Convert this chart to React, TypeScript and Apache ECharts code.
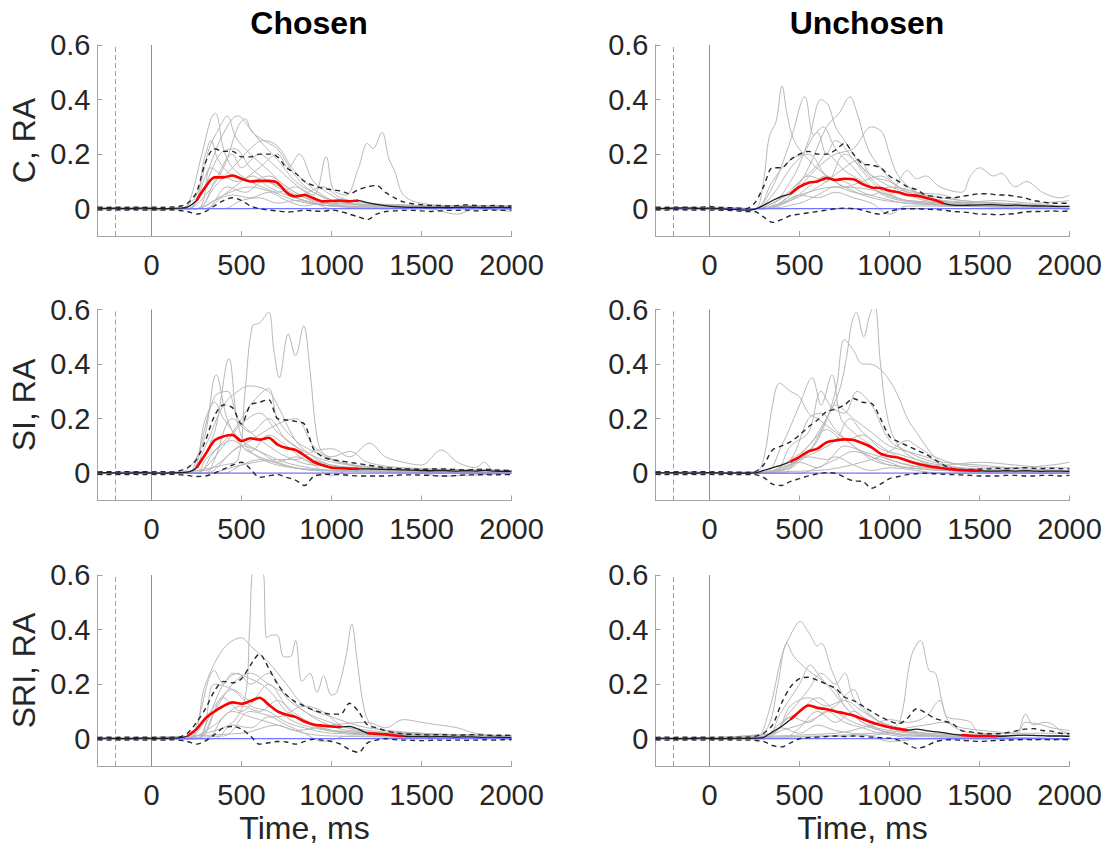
import React, { useEffect, useRef } from "react";
import * as echarts from "echarts";

// ---------- axes / labels ----------
const TF = [-300,-250,-200,-150,-100,-50,0,50,100,150,200,250,300,350,400,450,500,550,600,650,700,750,800,850,900,950,1000,1050,1100,1150,1200,1250,1300,1350,1400,1450,1500,1550,1600,1650,1700,1750,1800,1850,1900,1950,2000];
const X_TICKS = [0, 500, 1000, 1500, 2000];
const Y_TICKS = [0, 0.2, 0.4, 0.6];
const X_RANGE = [-300, 2000];
const Y_RANGE = [-0.1, 0.6];
const CUE_LINES = [-200, 0];
const COLUMN_TITLES = ["Chosen", "Unchosen"];
const ROW_LABELS = ["C, RA", "SI, RA", "SRI, RA"];
const X_NAME = "Time, ms";

// ---------- C, chosen ----------
const C_CH_MEAN = [0.002,0.001,0.002,0,0.001,0.002,0.001,0,0.001,0.002,
  0.006,0.03,0.08,0.115,0.115,0.122,0.11,0.1,0.102,0.102,
  0.095,0.06,0.045,0.05,0.038,0.027,0.028,0.03,0.027,0.03,
  0.022,0.016,0.011,0.008,0.006,0.005,0.005,0.004,0.005,0.004,
  0.005,0.006,0.005,0.004,0.005,0.005,0.004];
const C_CH_UP = [0.006,0.005,0.006,0.005,0.006,0.005,0.006,0.005,0.006,0.008,
  0.02,0.06,0.17,0.22,0.21,0.21,0.19,0.19,0.2,0.2,
  0.19,0.15,0.13,0.1,0.085,0.075,0.07,0.065,0.055,0.07,
  0.08,0.085,0.06,0.04,0.025,0.018,0.015,0.012,0.012,0.01,
  0.012,0.014,0.012,0.01,0.012,0.01,0.01];
const C_CH_LO = [-0.004,-0.005,-0.004,-0.005,-0.004,-0.005,-0.004,-0.005,-0.004,-0.006,
  -0.01,-0.02,-0.01,0.01,0.03,0.04,0.03,0.01,0,-0.005,
  -0.008,-0.012,-0.01,-0.005,-0.008,-0.01,-0.005,-0.01,-0.02,-0.03,
  -0.04,-0.02,-0.01,-0.008,-0.006,-0.006,-0.008,-0.01,-0.008,-0.006,
  -0.006,-0.005,-0.008,-0.006,-0.005,-0.006,-0.005];
const C_CH_SIG = [[250, 1150]];
const C_CH_SUBJ = [
  [[-300,0],[-150,0.005],[0,-0.005],[150,0],[200,0.01],[280,0.2],[330,0.33],[355,0.35],[400,0.22],[450,0.15],[550,0.1],[650,0.07],[800,0.03],[1000,0.01],[1300,0],[2000,0]],
  [[-300,0],[-50,0.005],[150,0],[250,0.05],[320,0.22],[380,0.3],[420,0.34],[470,0.26],[550,0.2],[650,0.14],[750,0.08],[900,0.03],[1100,0.01],[1600,0.01],[2000,0]],
  [[-300,0],[200,0],[300,0.12],[380,0.25],[450,0.33],[480,0.34],[540,0.3],[600,0.25],[700,0.18],[800,0.1],[900,0.06],[1000,0.03],[1300,0.01],[2000,0.01]],
  [[-300,0],[200,0],[300,0.05],[400,0.15],[480,0.3],[520,0.33],[560,0.28],[650,0.24],[700,0.22],[800,0.12],[900,0.06],[1100,0.02],[2000,0]],
  [[-300,0],[250,0],[350,0.08],[450,0.15],[550,0.22],[620,0.25],[700,0.23],[780,0.15],[850,0.1],[950,0.05],[1050,0.02],[1500,0.01],[2000,0]],
  [[-300,0],[250,0],[400,0.05],[550,0.08],[700,0.06],[800,0.08],[900,0.05],[970,0.19],[1010,0.07],[1080,0.05],[1150,0.15],[1200,0.24],[1230,0.22],[1280,0.28],[1320,0.18],[1350,0.14],[1400,0.05],[1500,0.02],[1700,0.01],[2000,0.01]],
  [[-300,0],[200,0],[300,0.2],[330,0.25],[370,0.18],[450,0.12],[550,0.1],[650,0.12],[750,0.08],[850,0.04],[1000,0.01],[2000,0]],
  [[-300,0],[250,0],[350,0.1],[450,0.2],[500,0.15],[600,0.2],[680,0.16],[780,0.1],[880,0.05],[1000,0.02],[2000,0]],
  [[-300,0],[300,0],[400,0.05],[500,0.1],[600,0.15],[700,0.2],[760,0.15],[820,0.2],[900,0.1],[1000,0.05],[1100,0.02],[1400,0.01],[2000,0]],
  [[-300,0],[250,0],[350,0.03],[450,0.05],[550,0.04],[650,0.06],[750,0.03],[850,0.01],[950,0.02],[1200,0],[1600,0.01],[2000,-0.01]],
  [[-300,0],[250,0],[330,0.15],[400,0.12],[480,0.1],[560,0.12],[650,0.08],[750,0.05],[850,0.03],[1000,0.01],[2000,0]],
  [[-300,0],[300,0],[420,0.08],[520,0.06],[620,0.1],[720,0.08],[820,0.05],[950,0.08],[1050,0.04],[1200,0.02],[1500,0.01],[1700,-0.02],[1800,0],[2000,0]],
  [[-300,0],[200,0],[280,0.06],[380,0.2],[460,0.22],[550,0.15],[650,0.1],[750,0.06],[850,0.03],[1000,0.01],[2000,0]],
  [[-300,0],[400,0],[500,0.03],[600,0.04],[700,0.02],[800,0.03],[900,0.02],[1000,0],[1200,0.01],[1500,0.01],[2000,0.01]],
];

// ---------- C, unchosen ----------
const C_UN_MEAN = [0.002,0.001,0.002,0.003,0.002,0.001,0.002,0,-0.002,-0.003,
  -0.005,-0.002,0.012,0.03,0.045,0.055,0.08,0.095,0.1,0.112,
  0.105,0.11,0.108,0.09,0.078,0.076,0.066,0.06,0.05,0.048,
  0.04,0.032,0.02,0.013,0.012,0.013,0.014,0.015,0.014,0.012,
  0.013,0.011,0.01,0.01,0.009,0.008,0.008];
const C_UN_UP = [0.006,0.005,0.006,0.006,0.005,0.006,0.008,0.005,0.004,0.003,
  0,0.02,0.08,0.15,0.15,0.18,0.2,0.21,0.2,0.2,
  0.215,0.24,0.2,0.165,0.16,0.15,0.12,0.1,0.08,0.07,
  0.05,0.045,0.04,0.04,0.045,0.05,0.055,0.055,0.05,0.05,
  0.045,0.04,0.03,0.025,0.02,0.02,0.02];
const C_UN_LO = [-0.004,-0.005,-0.004,-0.004,-0.005,-0.004,-0.005,-0.005,-0.006,-0.008,
  -0.01,-0.01,-0.03,-0.05,-0.04,-0.025,-0.02,-0.015,-0.01,-0.005,
  0,0.002,0,-0.005,-0.015,-0.02,-0.01,-0.002,0,0,
  -0.002,-0.003,-0.005,-0.01,-0.012,-0.015,-0.02,-0.02,-0.022,-0.02,
  -0.018,-0.012,-0.01,-0.01,-0.008,-0.01,-0.008];
const C_UN_SIG = [[450, 1300]];
const C_UN_SUBJ = [
  [[-300,0],[-100,0.005],[100,0],[250,0],[300,0.1],[330,0.26],[370,0.32],[403,0.45],[430,0.35],[470,0.25],[550,0.18],[650,0.12],[750,0.08],[900,0.04],[1100,0.02],[1400,0.01],[2000,0]],
  [[-300,0],[100,0.005],[250,0],[350,0.08],[450,0.25],[530,0.41],[580,0.27],[630,0.3],[700,0.22],[800,0.15],[900,0.08],[1000,0.04],[1200,0.02],[2000,0]],
  [[-300,0],[300,0],[450,0.1],[550,0.25],[620,0.4],[660,0.38],[700,0.3],[750,0.25],[850,0.15],[950,0.08],[1100,0.03],[2000,0.01]],
  [[-300,0],[300,0],[450,0.05],[550,0.15],[650,0.3],[720,0.35],[780,0.41],[820,0.35],[880,0.22],[950,0.15],[1050,0.08],[1200,0.03],[2000,0]],
  [[-300,0],[300,0],[450,0.05],[600,0.15],[700,0.2],[800,0.22],[900,0.3],[960,0.28],[1000,0.2],[1050,0.12],[1150,0.06],[1300,0.03],[2000,0.01]],
  [[-300,0],[300,0],[500,0.05],[700,0.08],[900,0.07],[1000,0.05],[1050,0.1],[1100,0.14],[1150,0.11],[1200,0.12],[1280,0.08],[1400,0.06],[1450,0.12],[1500,0.15],[1580,0.12],[1620,0.13],[1700,0.08],[1760,0.1],[1850,0.06],[1950,0.04],[2000,0.05]],
  [[-300,0],[250,0],[350,0.05],[450,0.15],[520,0.2],[600,0.28],[650,0.2],[700,0.25],[800,0.18],[900,0.1],[1000,0.05],[1200,0.02],[2000,0]],
  [[-300,0],[250,0],[400,0.04],[500,0.1],[600,0.16],[650,0.2],[750,0.14],[850,0.1],[950,0.06],[1100,0.03],[2000,0]],
  [[-300,0],[300,0],[450,0.03],[550,0.06],[650,0.1],[750,0.15],[830,0.18],[900,0.12],[1000,0.1],[1100,0.06],[1250,0.03],[2000,0]],
  [[-300,0],[250,0],[400,0.02],[500,0.05],[600,0.04],[700,0.06],[800,0.04],[900,0.02],[1000,-0.02],[1100,0.01],[2000,0]],
  [[-300,0],[300,0],[450,0.03],[550,0.08],[650,0.12],[750,0.08],[850,0.1],[950,0.12],[1050,0.08],[1150,0.06],[1300,0.05],[1400,0.03],[2000,0.01]],
  [[-300,0],[250,0],[350,0.02],[450,0.06],[550,0.12],[650,0.1],[750,0.2],[850,0.15],[950,0.1],[1050,0.07],[1200,0.05],[1400,0.03],[1600,0.02],[2000,0.01]],
  [[-300,0],[300,0],[500,0.02],[600,0.05],[700,0.08],[800,0.06],[900,0.05],[1000,0.08],[1100,0.07],[1200,0.05],[1350,0.02],[1600,0.03],[1800,0.02],[2000,0.03]],
  [[-300,0],[250,0],[350,0.1],[450,0.18],[550,0.2],[650,0.12],[750,0.1],[850,0.06],[950,0.04],[1100,0.02],[2000,0]],
];

// ---------- SI, chosen ----------
const SI_CH_MEAN = [0.001,0.002,0.001,0,0.001,0.002,0.001,0,0.001,0.002,
  0.004,0.02,0.07,0.12,0.135,0.14,0.118,0.128,0.123,0.13,
  0.105,0.092,0.085,0.065,0.042,0.03,0.02,0.018,0.017,0.016,
  0.016,0.015,0.014,0.013,0.012,0.011,0.01,0.009,0.01,0.009,
  0.008,0.009,0.008,0.01,0.008,0.007,0.007];
const SI_CH_UP = [0.005,0.006,0.005,0.006,0.005,0.006,0.005,0.006,0.005,0.008,
  0.02,0.05,0.12,0.21,0.25,0.24,0.18,0.25,0.26,0.27,
  0.2,0.195,0.19,0.18,0.09,0.06,0.05,0.045,0.04,0.035,
  0.03,0.025,0.02,0.018,0.016,0.015,0.014,0.015,0.016,0.015,
  0.013,0.012,0.014,0.015,0.012,0.011,0.01];
const SI_CH_LO = [-0.004,-0.005,-0.004,-0.005,-0.004,-0.005,-0.004,-0.005,-0.004,-0.005,
  -0.008,-0.012,-0.01,0,0.015,0.03,0.04,0.015,-0.015,-0.01,
  -0.005,-0.015,-0.025,-0.045,-0.012,-0.005,-0.004,-0.005,-0.008,-0.01,
  -0.01,-0.01,-0.01,-0.008,-0.006,-0.006,-0.007,-0.008,-0.01,-0.01,
  -0.008,-0.006,-0.006,-0.005,-0.006,-0.005,-0.005];
const SI_CH_SIG = [[250, 1150]];
const SI_CH_SUBJ = [
  [[-300,0],[-100,0.005],[100,0],[250,0.01],[400,0.03],[480,0.05],[520,0.3],[560,0.54],[600,0.55],[650,0.59],[680,0.45],[710,0.35],[760,0.51],[800,0.43],[845,0.54],[880,0.38],[920,0.13],[960,0.07],[1100,0.03],[1300,0.01],[2000,0]],
  [[-300,0],[-50,0.005],[150,0],[280,0.1],[360,0.36],[420,0.2],[500,0.1],[600,0.06],[800,0.02],[1100,0.01],[2000,0]],
  [[-300,0],[200,0],[250,0.02],[350,0.15],[430,0.42],[480,0.18],[550,0.08],[700,0.03],[1000,0.01],[2000,0]],
  [[-300,0],[200,0],[300,0.1],[400,0.25],[500,0.31],[550,0.32],[650,0.3],[700,0.25],[800,0.12],[900,0.06],[1000,0.03],[1300,0.01],[2000,0]],
  [[-300,0],[250,0],[300,0.05],[450,0.15],[550,0.25],[650,0.31],[700,0.2],[800,0.12],[900,0.08],[1050,0.04],[1300,0.02],[2000,0.01]],
  [[-300,0],[200,0],[250,0.05],[350,0.28],[420,0.3],[480,0.2],[550,0.15],[650,0.1],[750,0.06],[900,0.03],[2000,0]],
  [[-300,0],[250,0],[300,0.02],[400,0.1],[500,0.18],[600,0.22],[700,0.15],[800,0.1],[900,0.05],[1100,0.02],[2000,0]],
  [[-300,0],[250,0],[350,0.08],[450,0.12],[550,0.08],[650,0.14],[750,0.1],[850,0.05],[1000,0.02],[2000,0]],
  [[-300,0],[300,0],[500,0.03],[700,0.05],[800,0.05],[900,0.08],[1000,0.09],[1100,0.06],[1210,0.11],[1300,0.06],[1400,0.04],[1500,0.03],[1610,0.085],[1700,0.04],[1800,0.02],[1850,0.04],[1900,0.01],[2000,0.01]],
  [[-300,0],[300,0.01],[400,0.05],[500,0.1],[600,0.08],[700,0.05],[800,0.03],[1000,0.01],[2000,0]],
  [[-300,0],[300,0],[350,0.05],[450,0.2],[550,0.15],[650,0.2],[750,0.12],[850,0.08],[950,0.05],[1100,0.03],[1400,0.01],[2000,0]],
  [[-300,0],[400,0],[500,0.03],[600,0.05],[700,0.04],[800,0.06],[900,0.03],[1000,-0.01],[1100,0.01],[1500,0],[1600,-0.01],[2000,0]],
  [[-300,0],[200,0],[300,0.2],[350,0.26],[400,0.2],[500,0.12],[600,0.08],[700,0.04],[900,0.01],[2000,0]],
  [[-300,0],[300,0],[450,0.08],[550,0.12],[700,0.18],[800,0.2],[900,0.1],[1000,0.06],[1100,0.08],[1200,0.04],[1400,0.02],[2000,0.01]],
];

// ---------- SI, unchosen ----------
const SI_UN_MEAN = [0.002,0.001,0.002,0.001,0,0.001,0.002,0.001,0,0.001,
  0,0.001,0.01,0.02,0.03,0.042,0.06,0.08,0.09,0.113,
  0.12,0.124,0.122,0.11,0.095,0.072,0.062,0.057,0.046,0.036,
  0.028,0.022,0.018,0.014,0.011,0.01,0.009,0.008,0.008,0.009,
  0.008,0.009,0.008,0.007,0.008,0.008,0.007];
const SI_UN_UP = [0.005,0.006,0.005,0.006,0.005,0.006,0.005,0.006,0.005,0.004,
  0.003,0.005,0.03,0.085,0.1,0.115,0.14,0.17,0.195,0.225,
  0.235,0.25,0.274,0.26,0.256,0.2,0.135,0.115,0.1,0.085,
  0.07,0.05,0.03,0.017,0.014,0.014,0.015,0.016,0.018,0.017,
  0.018,0.02,0.018,0.017,0.018,0.017,0.016];
const SI_UN_LO = [-0.004,-0.005,-0.004,-0.005,-0.004,-0.005,-0.004,-0.005,-0.004,-0.005,
  -0.005,-0.005,-0.015,-0.04,-0.045,-0.03,-0.02,-0.01,-0.002,0.002,
  0,-0.015,-0.028,-0.03,-0.055,-0.04,-0.02,-0.012,-0.005,-0.002,
  0,-0.002,-0.004,-0.005,-0.006,-0.008,-0.01,-0.01,-0.01,-0.008,
  -0.008,-0.01,-0.01,-0.008,-0.008,-0.01,-0.008];
const SI_UN_SIG = [[450, 1500]];
const SI_UN_SUBJ = [
  [[-300,0],[-100,0.005],[100,0],[250,0],[400,0.02],[550,0.08],[650,0.2],[720,0.3],[760,0.42],[790,0.55],[815,0.59],[857,0.5],[890,0.58],[917,0.62],[950,0.4],[990,0.2],[1050,0.1],[1150,0.05],[1300,0.02],[1500,0.01],[2000,0]],
  [[-300,0],[300,0],[500,0.05],[600,0.12],[700,0.3],[750,0.49],[800,0.45],[850,0.4],[890,0.4],[950,0.38],[1000,0.34],[1050,0.28],[1100,0.2],[1150,0.15],[1250,0.06],[1350,0.02],[2000,0]],
  [[-300,0],[250,0],[300,0.05],[350,0.25],[390,0.33],[450,0.3],[500,0.28],[550,0.22],[600,0.2],[700,0.15],[800,0.1],[900,0.05],[1000,0.03],[1300,0.01],[2000,0]],
  [[-300,0],[300,0],[400,0.1],[500,0.25],[570,0.35],[620,0.25],[680,0.36],[730,0.2],[800,0.15],[900,0.1],[1000,0.05],[1200,0.02],[2000,0]],
  [[-300,0],[350,0],[450,0.1],[550,0.15],[620,0.3],[680,0.24],[750,0.22],[820,0.3],[900,0.25],[1000,0.12],[1100,0.08],[1200,0.05],[1400,0.02],[2000,0.01]],
  [[-300,0],[300,0],[450,0.05],[550,0.1],[650,0.2],[700,0.25],[800,0.2],[900,0.15],[1000,0.1],[1100,0.08],[1200,0.06],[1300,0.04],[1500,0.03],[1700,0.02],[1900,0.03],[2000,0.04]],
  [[-300,0],[400,0],[500,0.05],[600,0.08],[700,0.12],[780,0.2],[850,0.15],[950,0.1],[1050,0.06],[1150,0.04],[1400,0.01],[2000,0]],
  [[-300,0],[300,0],[450,0.02],[550,0.06],[650,0.05],[750,0.1],[850,0.08],[950,0.06],[1050,0.04],[1200,0.02],[2000,0]],
  [[-300,0],[400,0.01],[550,0.1],[650,0.16],[750,0.12],[850,0.14],[950,0.09],[1050,0.07],[1150,0.05],[1300,0.03],[1500,0.04],[1700,0.03],[1900,0.02],[2000,0.02]],
  [[-300,0],[300,0],[450,0.05],[550,0.2],[620,0.22],[700,0.16],[800,0.1],[900,0.06],[1000,0.03],[1300,0.01],[2000,0]],
  [[-300,0],[500,0],[600,0.02],[700,0.05],[800,0.08],[900,0.06],[1000,0.04],[1100,0.02],[1200,0.03],[1500,0.01],[2000,0]],
  [[-300,0],[350,0],[500,0.04],[600,0.02],[700,0.06],[800,0.03],[900,0.01],[1000,0.02],[1300,0],[2000,0.01]],
  [[-300,0],[600,0.01],[900,0.05],[1000,0.08],[1100,0.12],[1150,0.1],[1250,0.06],[1400,0.03],[1600,0.02],[2000,0.01]],
];

// ---------- SRI, chosen ----------
const SRI_CH_MEAN = [0.001,0.002,0.001,0,0.001,0.002,0.001,0.001,0.002,0.003,
  0.01,0.035,0.075,0.1,0.12,0.133,0.128,0.138,0.15,0.125,
  0.1,0.088,0.08,0.063,0.052,0.048,0.045,0.043,0.045,0.035,
  0.02,0.018,0.016,0.012,0.009,0.008,0.008,0.007,0.008,0.007,
  0.006,0.007,0.006,0.005,0.006,0.005,0.004];
const SRI_CH_UP = [0.005,0.006,0.005,0.006,0.005,0.006,0.005,0.006,0.005,0.006,
  0.02,0.06,0.11,0.175,0.21,0.205,0.22,0.27,0.31,0.26,
  0.2,0.16,0.135,0.12,0.105,0.095,0.09,0.09,0.13,0.1,
  0.05,0.04,0.03,0.022,0.018,0.016,0.015,0.014,0.015,0.014,
  0.013,0.014,0.015,0.013,0.012,0.013,0.012];
const SRI_CH_LO = [-0.004,-0.005,-0.004,-0.005,-0.004,-0.005,-0.004,-0.005,-0.004,-0.005,
  -0.01,-0.02,-0.008,0.015,0.04,0.045,0.035,0.01,-0.02,-0.015,
  -0.01,-0.012,-0.02,-0.01,-0.002,-0.005,-0.01,-0.02,-0.04,-0.05,
  -0.015,-0.005,0,-0.003,-0.005,-0.006,-0.007,-0.006,-0.005,-0.006,
  -0.005,-0.006,-0.005,-0.004,-0.005,-0.004,-0.004];
const SRI_CH_SIG = [[200, 1050], [1200, 1400]];
const SRI_CH_SUBJ = [
  [[-300,0],[-100,0.005],[150,0],[300,0.02],[450,0.06],[520,0.15],[545,0.4],[570,0.62],[615,0.62],[640,0.37],[670,0.38],[698,0.38],[735,0.3],[770,0.3],[800,0.36],[837,0.21],[880,0.24],[920,0.17],[956,0.23],[1000,0.16],[1030,0.17],[1080,0.3],[1113,0.42],[1140,0.3],[1178,0.12],[1220,0.05],[1300,0.03],[1500,0.02],[2000,0.01]],
  [[-300,0],[200,0],[300,0.2],[400,0.33],[500,0.37],[550,0.34],[650,0.28],[750,0.2],[850,0.12],[1000,0.08],[1200,0.04],[1500,0.02],[2000,0]],
  [[-300,0],[200,0],[250,0.05],[350,0.25],[400,0.2],[450,0.24],[550,0.22],[650,0.18],[750,0.1],[850,0.06],[1000,0.03],[2000,0]],
  [[-300,0],[250,0],[300,0.05],[400,0.2],[480,0.24],[550,0.2],[650,0.24],[750,0.15],[850,0.1],[950,0.06],[1100,0.03],[2000,0]],
  [[-300,0],[200,0],[250,0.02],[350,0.12],[450,0.18],[550,0.14],[650,0.2],[750,0.12],[850,0.07],[1000,0.03],[2000,0]],
  [[-300,0],[300,0],[400,0.08],[500,0.12],[600,0.1],[700,0.14],[800,0.08],[900,0.05],[1100,0.02],[2000,0]],
  [[-300,0],[500,0.02],[700,0.05],[800,0.03],[1000,0.05],[1200,0.06],[1300,0.04],[1400,0.07],[1500,0.06],[1600,0.05],[1700,0.04],[1800,0.02],[2000,0.01]],
  [[-300,0],[200,0],[250,0.01],[350,0.05],[450,0.1],[550,0.08],[650,0.06],[750,0.04],[850,0.02],[1000,0.01],[2000,0]],
  [[-300,0],[250,0],[300,0.02],[400,0.15],[500,0.1],[600,0.15],[700,0.1],[800,0.06],[900,0.04],[1100,0.02],[2000,0]],
  [[-300,0],[350,0],[450,0.05],[550,0.04],[650,0.08],[750,0.05],[850,0.02],[950,-0.01],[1100,0.01],[2000,0]],
  [[-300,0],[250,0],[350,0.2],[450,0.18],[550,0.12],[650,0.1],[750,0.06],[850,0.04],[1000,0.02],[2000,0]],
  [[-300,0],[400,0.01],[550,0.1],[700,0.08],[850,0.12],[950,0.1],[1050,0.05],[1150,0.03],[1300,0.02],[2000,0.01]],
  [[-300,0],[250,0],[350,0.1],[450,0.2],[550,0.24],[650,0.2],[750,0.16],[850,0.1],[950,0.07],[1100,0.04],[1400,0.02],[2000,0.01]],
];

// ---------- SRI, unchosen ----------
const SRI_UN_MEAN = [0.001,0.002,0.001,0,0.001,0.002,0.001,0,0.001,0.001,
  0.001,0.002,0.005,0.025,0.045,0.07,0.1,0.122,0.113,0.108,
  0.1,0.093,0.085,0.072,0.06,0.05,0.042,0.036,0.031,0.035,
  0.03,0.026,0.022,0.016,0.013,0.011,0.01,0.01,0.009,0.01,
  0.012,0.013,0.012,0.011,0.01,0.01,0.009];
const SRI_UN_UP = [0.005,0.006,0.005,0.006,0.005,0.006,0.005,0.006,0.005,0.006,
  0.006,0.008,0.02,0.05,0.13,0.19,0.22,0.225,0.214,0.2,
  0.185,0.153,0.14,0.12,0.1,0.08,0.065,0.055,0.075,0.11,
  0.095,0.075,0.065,0.055,0.03,0.025,0.02,0.018,0.018,0.022,
  0.028,0.035,0.037,0.03,0.028,0.02,0.018];
const SRI_UN_LO = [-0.004,-0.005,-0.004,-0.005,-0.004,-0.005,-0.004,-0.005,-0.004,-0.005,
  -0.005,-0.006,-0.01,-0.025,-0.03,-0.015,0,0.004,0.006,0.008,
  0.01,0.008,0.01,0.008,0.006,0.004,0.002,-0.005,-0.02,-0.035,
  -0.028,-0.012,-0.005,-0.004,-0.006,-0.008,-0.01,-0.008,-0.006,-0.005,
  -0.004,-0.003,-0.004,-0.003,-0.004,-0.003,-0.004];
const SRI_UN_SIG = [[450, 1100], [1400, 1600]];
const SRI_UN_SUBJ = [
  [[-300,0],[0,0.005],[250,0],[330,0.1],[400,0.3],[450,0.38],[506,0.43],[540,0.4],[560,0.38],[600,0.34],[620,0.35],[680,0.25],[750,0.15],[850,0.08],[1000,0.04],[1200,0.02],[2000,0.01]],
  [[-300,0],[250,0],[330,0.05],[380,0.2],[430,0.35],[470,0.3],[550,0.25],[650,0.2],[750,0.12],[850,0.06],[1000,0.03],[1300,0.01],[2000,0]],
  [[-300,0],[600,0.01],[900,0.02],[1000,0.03],[1060,0.07],[1120,0.3],[1172,0.36],[1220,0.25],[1256,0.24],[1290,0.14],[1330,0.06],[1400,0.03],[1500,0.02],[1700,0.02],[1756,0.09],[1800,0.05],[1857,0.06],[1900,0.055],[1950,0.03],[2000,0.02]],
  [[-300,0],[300,0],[400,0.1],[500,0.2],[561,0.27],[600,0.24],[650,0.2],[700,0.18],[750,0.12],[850,0.06],[950,0.03],[1200,0.01],[2000,0]],
  [[-300,0],[300,0],[450,0.1],[550,0.18],[620,0.24],[700,0.2],[750,0.24],[800,0.15],[900,0.08],[1000,0.05],[1200,0.02],[2000,0]],
  [[-300,0],[350,0.02],[450,0.12],[550,0.15],[650,0.12],[750,0.14],[850,0.1],[950,0.06],[1050,0.03],[1300,0.01],[2000,0]],
  [[-300,0],[300,0.01],[400,0.06],[500,0.1],[600,0.15],[700,0.1],[800,0.06],[900,0.04],[1100,0.01],[2000,0]],
  [[-300,0],[300,0],[400,0.03],[500,0.05],[600,0.08],[700,0.12],[800,0.18],[850,0.12],[950,0.06],[1050,0.04],[1300,0.01],[2000,0]],
  [[-300,0],[700,0.02],[900,0.05],[1000,0.07],[1100,0.06],[1200,0.08],[1280,0.14],[1320,0.08],[1400,0.07],[1450,0.06],[1500,0.02],[1700,0.01],[1756,0.06],[1850,0.05],[1900,0.04],[2000,0.03]],
  [[-300,0],[300,0],[400,0.04],[500,0.02],[600,0.05],[700,0.03],[800,0.02],[900,0.01],[1000,-0.01],[1200,0],[2000,0]],
  [[-300,0],[350,0.02],[450,0.08],[550,0.06],[650,0.1],[750,0.06],[850,0.04],[950,0.02],[1200,0],[2000,0]],
  [[-300,0],[800,0.01],[1000,0.02],[1100,0.04],[1200,0.05],[1300,0.06],[1400,0.04],[1600,0.025],[1700,0.02],[2000,0.02]],
  [[-300,0],[400,0],[500,0.04],[600,0.1],[700,0.06],[800,0.1],[900,0.05],[1000,0.02],[1300,0.01],[2000,0]],
];

// ---------- layout ----------
const FONT = '"Liberation Sans", Arial, Helvetica, sans-serif';
const GRID_LEFT = [97.5, 655.5];
const GRID_WIDTH = 414;
const GRID_TOP = [45, 309.5, 575];
const GRID_HEIGHT = 191;
const TITLE_CENTER = [304, 862];

const PANELS = [
  { row: 0, col: 0, subj: C_CH_SUBJ, up: C_CH_UP, lo: C_CH_LO, mean: C_CH_MEAN, sig: C_CH_SIG },
  { row: 0, col: 1, subj: C_UN_SUBJ, up: C_UN_UP, lo: C_UN_LO, mean: C_UN_MEAN, sig: C_UN_SIG },
  { row: 1, col: 0, subj: SI_CH_SUBJ, up: SI_CH_UP, lo: SI_CH_LO, mean: SI_CH_MEAN, sig: SI_CH_SIG },
  { row: 1, col: 1, subj: SI_UN_SUBJ, up: SI_UN_UP, lo: SI_UN_LO, mean: SI_UN_MEAN, sig: SI_UN_SIG },
  { row: 2, col: 0, subj: SRI_CH_SUBJ, up: SRI_CH_UP, lo: SRI_CH_LO, mean: SRI_CH_MEAN, sig: SRI_CH_SIG },
  { row: 2, col: 1, subj: SRI_UN_SUBJ, up: SRI_UN_UP, lo: SRI_UN_LO, mean: SRI_UN_MEAN, sig: SRI_UN_SIG },
];

function buildOption() {
  const grid: any[] = [];
  const xAxis: any[] = [];
  const yAxis: any[] = [];
  const series: any[] = [];
  const axisColor = "#a3a3a3";
  const textColor = "#262626";

  PANELS.forEach((p, i) => {
    grid.push({
      left: GRID_LEFT[p.col], top: GRID_TOP[p.row], width: GRID_WIDTH, height: GRID_HEIGHT,
      containLabel: false, outerBoundsMode: "none",
    });
    xAxis.push({
      type: "value", gridIndex: i, min: X_RANGE[0], max: X_RANGE[1],
      axisLine: { show: true, onZero: false, lineStyle: { color: axisColor, width: 1 } },
      axisTick: { show: true, inside: true, length: 5, customValues: X_TICKS, lineStyle: { color: axisColor } },
      axisLabel: {
        show: true, customValues: X_TICKS, fontSize: 29, color: textColor, fontFamily: FONT, margin: 14,
        formatter: (v: number) => String(Math.round(v)),
      },
      splitLine: { show: false },
      name: p.row === 2 ? X_NAME : "", nameLocation: "middle", nameGap: 46,
      nameTextStyle: { fontSize: 32, color: textColor, fontFamily: FONT },
      nameMoveOverlap: false,
    });
    yAxis.push({
      type: "value", gridIndex: i, min: Y_RANGE[0], max: Y_RANGE[1],
      axisLine: { show: true, onZero: false, lineStyle: { color: axisColor, width: 1 } },
      axisTick: { show: true, inside: true, length: 5, customValues: Y_TICKS, lineStyle: { color: axisColor } },
      axisLabel: {
        show: true, customValues: Y_TICKS, fontSize: 29, color: textColor, fontFamily: FONT, margin: 7,
        formatter: (v: number) => (Math.abs(v) < 1e-9 ? "0" : v.toFixed(1)),
      },
      splitLine: { show: false },
      name: p.col === 0 ? ROW_LABELS[p.row] : "", nameLocation: "middle", nameGap: 58, nameRotate: 90,
      nameTextStyle: { fontSize: 32, color: textColor, fontFamily: FONT },
      nameMoveOverlap: false,
    });

    const base = { type: "line", xAxisIndex: i, yAxisIndex: i, showSymbol: false, symbol: "none", silent: true, animation: false };
    CUE_LINES.forEach((x, k) => {
      series.push({ ...base, data: [[x, Y_RANGE[0]], [x, Y_RANGE[1]]], z: 1,
        lineStyle: { color: k === 0 ? "#a0a0a0" : "#8f8f8f", width: 1, type: k === 0 ? [5, 3] : "solid" } });
    });
    p.subj.forEach((d) => {
      series.push({ ...base, data: d, smooth: 0.35, z: 2, lineStyle: { color: "#b8b8b8", width: 1 } });
    });
    series.push({ ...base, data: [[X_RANGE[0], 0], [X_RANGE[1], 0]], z: 3, lineStyle: { color: "#7474ff", width: 1.2 } });
    [p.up, p.lo].forEach((arr) => {
      series.push({ ...base, data: TF.map((t, k) => [t, arr[k]]), smooth: 0.3, z: 4,
        lineStyle: { color: "#262636", width: 1.4, type: [5, 4] } });
    });
    series.push({ ...base, data: TF.map((t, k) => [t, p.mean[k]]), smooth: 0.3, z: 5,
      lineStyle: { color: "#1e1e1e", width: 1.3 } });
    p.sig.forEach(([a, b]) => {
      series.push({ ...base, data: TF.map((t, k) => [t, p.mean[k]]).filter((d) => d[0] >= a && d[0] <= b),
        smooth: 0.3, z: 6, lineStyle: { color: "#ff0000", width: 2.6 } });
    });
  });

  const title = COLUMN_TITLES.map((t, c) => ({
    text: t, left: TITLE_CENTER[c], top: 2, textAlign: "center",
    textStyle: { fontSize: 32, fontWeight: "bold", color: "#000", fontFamily: FONT },
  }));

  return { animation: false, backgroundColor: "#ffffff", title, grid, xAxis, yAxis, series };
}

export default function App() {
  const ref = useRef<HTMLDivElement | null>(null);
  useEffect(() => {
    if (!ref.current) return;
    const chart = echarts.init(ref.current, undefined, { renderer: "svg" });
    chart.setOption(buildOption() as any);
    return () => chart.dispose();
  }, []);
  return <div ref={ref} style={{ position: "absolute", left: 0, top: 0, width: 1112, height: 853 }} />;
}
